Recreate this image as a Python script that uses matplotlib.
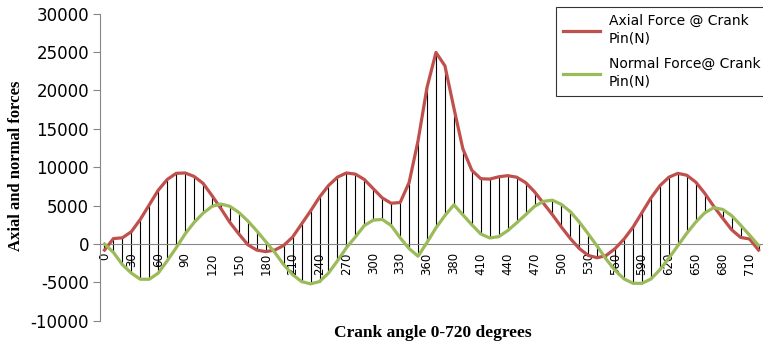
import numpy as np
import matplotlib
matplotlib.use("Agg")
import matplotlib.pyplot as plt

# plain hyphen for negatives, as in the source chart
plt.rcParams["axes.unicode_minus"] = False

# crank angles (category axis, extra points around the firing peak)
angles = [0, 10, 20, 30, 40, 50, 60, 70, 80, 90, 100, 110, 120, 130, 140, 150,
          160, 170, 180, 190, 200, 210, 220, 230, 240, 250, 260, 270, 280, 290,
          300, 310, 320, 330, 340, 350, 360, 365, 370, 380, 390, 400, 410, 420,
          430, 440, 450, 460, 470, 480, 490, 500, 510, 520, 530, 540, 550, 560,
          570, 580, 590, 600, 610, 620, 630, 640, 650, 660, 670, 680, 690, 700,
          710, 720]

axial_force = [-800, 700, 800, 1600, 3200, 5100, 7000, 8400, 9200, 9250,
               8800, 7900, 6300, 4600, 2800, 1300, -100, -800, -1000, -800,
               -200, 900, 2600, 4300, 6100, 7600, 8700, 9250, 9100, 8400,
               7200, 6000, 5300, 5400, 8000, 13450, 20400, 24950, 23200, 17700,
               12400, 9600, 8500, 8450, 8750, 8900, 8700, 8000, 6800, 5300,
               3800, 2200, 700, -600, -1500, -1800, -1500, -600, 650, 2200,
               4100, 6000, 7600, 8700, 9200, 8950, 8050, 6600, 4900, 3350,
               1850, 850, 650, -800]

normal_force = [0, -1100, -2700, -3800, -4600, -4600, -3800, -2200, -500, 1300,
                2800, 4000, 4900, 5200, 4900, 4100, 3000, 1700, 300, -1100,
                -2700, -4000, -4900, -5200, -4900, -3800, -2200, -500, 900, 2400,
                3100, 3200, 2400, 800, -600, -1600, 200, 2100, 3700, 5100,
                3800, 2500, 1300, 780, 950, 1730, 2750, 3800, 4900, 5550,
                5700, 5150, 4200, 2850, 1300, -300, -2000, -3450, -4560, -5130,
                -5130, -4560, -3350, -1850, -220, 1400, 2850, 4050, 4730, 4500,
                3690, 2450, 1150, -180]

red = "#C0504D"
green = "#9BBB59"
grey = "#868686"

W, H = 763, 349
fig = plt.figure(figsize=(W / 100, H / 100), dpi=100)
ax = fig.add_axes([100 / W, (H - 320.7) / H, 663 / W, 307 / H])

x = np.arange(len(angles))

# high-low lines between the two series
ax.vlines(x, normal_force, axial_force, color="black", lw=0.8, zorder=2)
ax.plot(x, axial_force, color=red, lw=2.3, label="Axial Force @ Crank\nPin(N)",
        zorder=3, solid_joinstyle="round")
ax.plot(x, normal_force, color=green, lw=2.3, label="Normal Force@ Crank\nPin(N)",
        zorder=3, solid_joinstyle="round")

ax.set_xlim(-0.5, len(angles) - 0.5)
ax.set_ylim(-10000, 30000)
ax.set_yticks(np.arange(-10000, 30001, 5000))
ax.tick_params(axis="y", labelsize=12, length=5, color=grey, pad=3)

# category labels every third point, next to the zero line
ax.spines["bottom"].set_position(("data", 0))
ax.spines["bottom"].set_color(grey)
ax.spines["left"].set_color(grey)
ax.spines["top"].set_visible(False)
ax.spines["right"].set_visible(False)
ax.set_xticks(x[::3])
ax.set_xticklabels([str(a) for a in angles[::3]], rotation=90, fontsize=8.5)
ax.tick_params(axis="x", length=0, pad=6)

fig.text(16 / W, 1 - 166 / H, "Axial and normal forces", rotation=90,
         ha="center", va="center", family="Liberation Serif",
         fontweight="bold", fontsize=12)
fig.text(433 / W, 1 - 333 / H, "Crank angle 0-720 degrees", ha="center",
         va="center", family="Liberation Serif", fontweight="bold", fontsize=12.5)

leg = ax.legend(loc="upper left", bbox_to_anchor=(556 / W, 1 - 7.3 / H),
                bbox_transform=fig.transFigure, fontsize=10, frameon=True,
                fancybox=False, edgecolor="black", handlelength=2.7,
                handletextpad=0.6, borderaxespad=0, labelspacing=0.85,
                borderpad=0.5)
leg.get_frame().set_linewidth(0.8)
for t in leg.get_texts():
    t.set_linespacing(1.3)

fig.savefig("out.png", dpi=100)
